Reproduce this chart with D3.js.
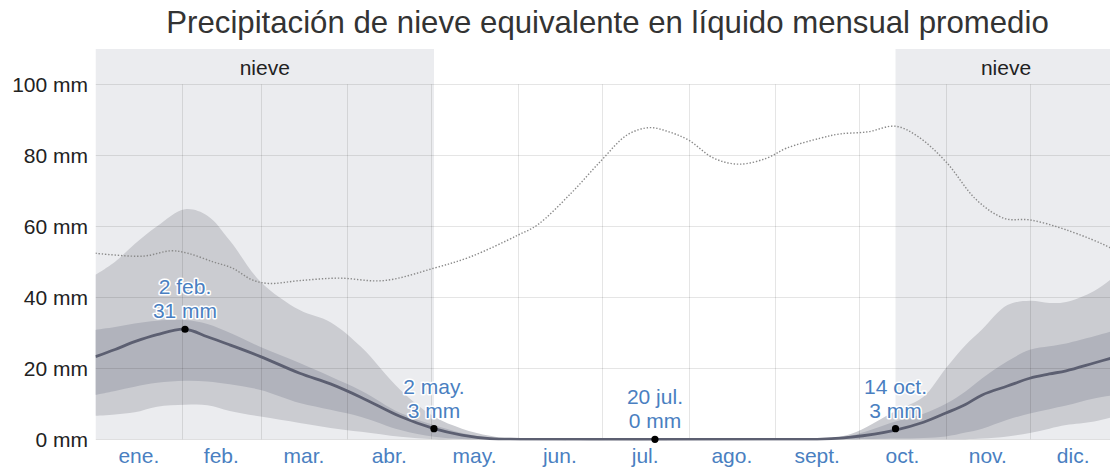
<!DOCTYPE html>
<html>
<head>
<meta charset="utf-8">
<script src="https://cdn.jsdelivr.net/npm/d3@7"></script>
<style>
  html, body { margin: 0; padding: 0; background: #fff; }
  svg { display: block; font-family: "Liberation Sans", Arial, sans-serif; }
</style>
</head>
<body>
<svg id="chart" width="1110" height="469"></svg>
<script>
// ---------- data ----------
const title = "Precipitación de nieve equivalente en líquido mensual promedio";
const monthLabels = ["ene.", "feb.", "mar.", "abr.", "may.", "jun.", "jul.", "ago.", "sept.", "oct.", "nov.", "dic."];
const monthStarts = [0, 31, 59, 90, 120, 151, 181, 212, 243, 273, 304, 334, 365];
const yTicks = [0, 20, 40, 60, 80, 100];
const yTickLabels = ["0 mm", "20 mm", "40 mm", "60 mm", "80 mm", "100 mm"];

// day of year (0 = 1 ene.)
const days = [0, 7, 14, 22, 32, 40, 48, 59, 73, 84, 95, 109, 121, 131, 141, 152, 245, 258, 270, 286, 296, 304, 311, 317, 326, 334, 341, 347, 357, 365];
const p50 = [23.3, 25.3, 27.5, 29.5, 31, 28.9, 26.6, 23.3, 18.6, 15.6, 11.8, 6.4, 3, 1.2, 0.2, 0, 0, 0, 0.6, 2.6, 4.8, 7.4, 9.8, 12.5, 15, 17.2, 18.4, 19.3, 21.5, 23.3];
const p75 = [30.8, 31.6, 32.6, 33.4, 33.6, 32.5, 30, 26, 21.5, 17.7, 13.7, 7.4, 4, 1.8, 0.5, 0, 0, 0, 1.0, 5, 7.2, 10, 13.5, 17.2, 22, 25.2, 26.2, 27, 29, 30.8];
const p25 = [12.5, 13.6, 14.8, 15.9, 16.5, 16.3, 15.5, 13.9, 10.2, 8.3, 6.3, 2.6, 0.7, 0.1, 0, 0, 0, 0, 0, 0.2, 0.4, 0.8, 1.9, 3, 5.5, 7.3, 8.5, 9.5, 11.5, 12.5];
const p90 = [46.3, 50, 55, 60, 64.8, 63, 56, 44.4, 36.4, 33, 26, 13.9, 6.4, 3, 1, 0, 0, 0, 1.5, 8, 12, 20, 26.5, 31, 37.8, 39, 38.4, 38.7, 41.8, 46.3];
const p10 = [6.6, 7, 7.6, 9.2, 9.7, 9.6, 8, 6.4, 4.6, 3.2, 2.1, 0.7, 0, 0, 0, 0, 0, 0, 0, 0, 0, 0, 0, 0.2, 0.8, 1.8, 3, 4, 5, 6.6];

// dotted series
const dotDays = [0, 17, 27, 33, 42, 49, 56, 62, 73, 87, 103, 121, 134, 151, 158, 170, 181, 190, 198, 205, 212, 221, 230, 240, 247, 259, 266, 276, 286, 294, 304, 315, 325, 334, 347, 363, 365];
const dotVals = [52.4, 51.6, 53.1, 52.4, 50, 48.2, 44.9, 43.9, 44.7, 45.4, 44.7, 48.2, 51.4, 57.5, 60.4, 69.3, 78.7, 85.7, 87.8, 86.6, 84.3, 79.2, 77.5, 79.2, 82, 84.8, 86, 86.6, 88.2, 85.3, 78.2, 67.4, 62.2, 61.8, 59, 53.8, 52.4];

// snow seasons [start day, end day]
const snowSeasons = [[0, 121], [286, 365]];
const snowLabel = "nieve";

// annotations
const annDays = [32, 121, 200, 286];
const annVals = [31, 3, 0, 3];
const annDates = ["2 feb.", "2 may.", "20 jul.", "14 oct."];
const annTexts = ["31 mm", "3 mm", "0 mm", "3 mm"];

// ---------- layout ----------
const W = 1110, H = 469;
const svg = d3.select("#chart");
const x = d3.scaleLinear().domain([0, 365]).range([95.5, 1116.5]);
const y = d3.scaleLinear().domain([0, 100]).range([439.3, 84.3]);
const shadeTop = 49;
const plotRight = W;

const defs = svg.append("defs");
defs.append("clipPath").attr("id", "clip")
  .append("rect").attr("x", x(0)).attr("y", shadeTop).attr("width", plotRight - x(0)).attr("height", y(0) + 1.2 - shadeTop);

const plot = svg.append("g").attr("clip-path", "url(#clip)");

// snow shading
plot.selectAll("rect.snow").data(snowSeasons).join("rect")
  .attr("class", "snow")
  .attr("x", d => x(d[0])).attr("width", d => x(d[1]) - x(d[0]))
  .attr("y", shadeTop).attr("height", y(0) - shadeTop)
  .attr("fill", "#ebecef");

const rows = days.map((d, i) => ({ d, p10: p10[i], p25: p25[i], p50: p50[i], p75: p75[i], p90: p90[i] }));
const curve = d3.curveCatmullRom.alpha(0.5);

plot.append("path").datum(rows)
  .attr("d", d3.area().x(r => x(r.d)).y0(r => y(r.p10)).y1(r => y(r.p90)).curve(curve))
  .attr("fill", "#cbccd1");
plot.append("path").datum(rows)
  .attr("d", d3.area().x(r => x(r.d)).y0(r => y(r.p25)).y1(r => y(r.p75)).curve(curve))
  .attr("fill", "#b1b3bc");

// grid
plot.selectAll("line.hg").data(yTicks).join("line")
  .attr("x1", x(0)).attr("x2", plotRight)
  .attr("y1", d => Math.round(y(d)) + 0.5).attr("y2", d => Math.round(y(d)) + 0.5)
  .attr("stroke", "rgba(0,0,0,0.1)").attr("stroke-width", 1);
plot.selectAll("line.vg").data(monthStarts.slice(1, 12)).join("line")
  .attr("x1", d => Math.round(x(d)) + 0.5).attr("x2", d => Math.round(x(d)) + 0.5)
  .attr("y1", y(100)).attr("y2", y(0))
  .attr("stroke", "rgba(0,0,0,0.1)").attr("stroke-width", 1);

// median
plot.append("path").datum(rows)
  .attr("d", d3.line().x(r => x(r.d)).y(r => y(Math.max(0, r.p50))).curve(curve))
  .attr("fill", "none").attr("stroke", "#5c5f71").attr("stroke-width", 2.8);

// dotted series
const dotRows = dotDays.map((d, i) => ({ d, v: dotVals[i] }));
plot.append("path").datum(dotRows)
  .attr("d", d3.line().x(r => x(r.d)).y(r => y(r.v)).curve(d3.curveCatmullRom.alpha(0.5)))
  .attr("fill", "none").attr("stroke", "#8a8a8a").attr("stroke-width", 1.4)
  .attr("stroke-dasharray", "1.4,1.8");

// snow labels
svg.selectAll("text.snow").data(snowSeasons).join("text")
  .attr("x", d => (x(d[0]) + x(d[1])) / 2).attr("y", 75)
  .attr("text-anchor", "middle").attr("font-size", 21).attr("fill", "#222")
  .text(snowLabel);

// y axis labels
svg.selectAll("text.yl").data(yTicks).join("text")
  .attr("x", 88).attr("y", d => y(d)).attr("dy", "0.35em")
  .attr("text-anchor", "end").attr("font-size", 21).attr("fill", "#222")
  .text((d, i) => yTickLabels[i]);

// month labels
svg.selectAll("text.ml").data(monthLabels).join("text")
  .attr("x", (d, i) => x((monthStarts[i] + monthStarts[i + 1]) / 2)).attr("y", 463)
  .attr("text-anchor", "middle").attr("font-size", 21).attr("fill", "#4a7fc1")
  .text(d => d);

// annotations
const ann = svg.append("g");
annDays.forEach((d, i) => {
  const cx = x(d), cy = y(annVals[i]);
  const t = ann.append("text").attr("text-anchor", "middle").attr("font-size", 21)
    .attr("fill", "#4a7fc1").attr("stroke", "#fff").attr("stroke-width", 3)
    .attr("stroke-linejoin", "round").attr("paint-order", "stroke");
  t.append("tspan").attr("x", cx).attr("y", cy - 35).text(annDates[i]);
  t.append("tspan").attr("x", cx).attr("y", cy - 11).text(annTexts[i]);
  ann.append("circle").attr("cx", cx).attr("cy", cy).attr("r", 3.6).attr("fill", "#000");
});

// title (fit to reference width)
const tt = svg.append("text").attr("x", 607.5).attr("y", 33)
  .attr("text-anchor", "middle").attr("font-size", 30).attr("fill", "#333")
  .text(title);
const len = tt.node().getComputedTextLength();
tt.attr("font-size", 30 * 883 / len);
</script>
</body>
</html>
